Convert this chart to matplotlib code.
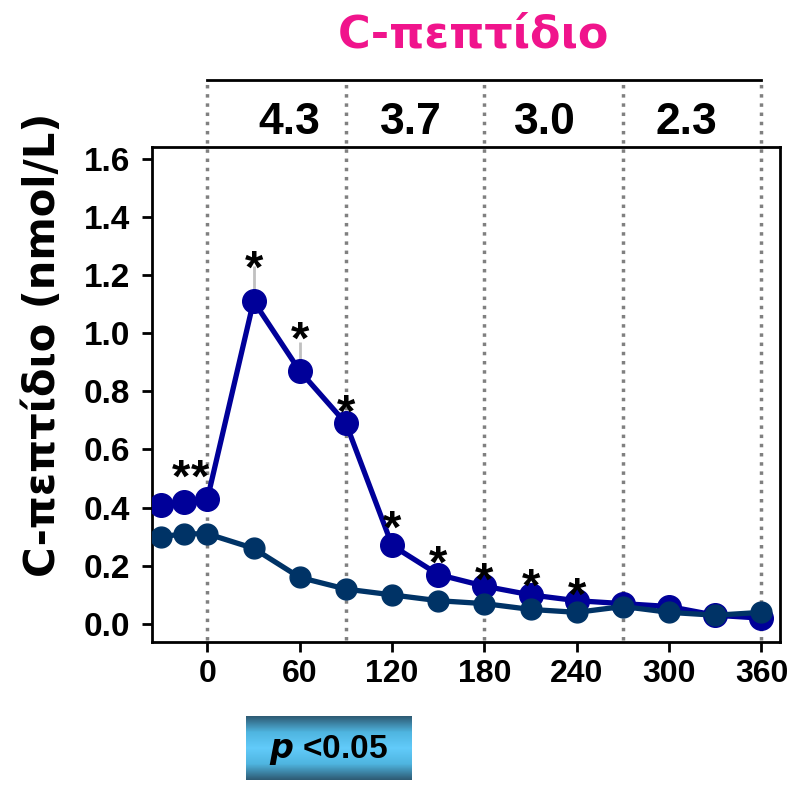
import numpy as np
import matplotlib.pyplot as plt
from matplotlib.colors import LinearSegmentedColormap

plt.rcParams['font.family'] = ['Liberation Sans', 'DejaVu Sans']
plt.rcParams['font.weight'] = 'bold'
greek = ['DejaVu Sans']

# data
time = [-30, -15, 0, 30, 60, 90, 120, 150, 180, 210, 240, 270, 300, 330, 360]
cpep_a = [0.41, 0.42, 0.43, 1.11, 0.87, 0.69, 0.27, 0.17, 0.13, 0.10, 0.08, 0.07, 0.06, 0.03, 0.02]
err_a = [0.0, 0.0, 0.0, 0.12, 0.10, 0.03, 0.0, 0.0, 0.0, 0.0, 0.0, 0.0, 0.0, 0.0, 0.0]
cpep_b = [0.30, 0.31, 0.31, 0.26, 0.16, 0.12, 0.10, 0.08, 0.07, 0.05, 0.04, 0.06, 0.04, 0.03, 0.04]
star_x = [-17, -5, 30, 60, 90, 120, 150, 180, 210, 240]
star_y = [0.42, 0.42, 1.14, 0.895, 0.645, 0.245, 0.125, 0.065, 0.045, 0.015]
bounds = [0, 90, 180, 270, 360]
top_vals = ['4.3', '3.7', '3.0', '2.3']
top_x = [53, 132, 219, 311]

fig = plt.figure(figsize=(7.92, 7.86), dpi=100)
ax = fig.add_axes([0.1919, 0.1832, 0.7929, 0.6298])

blue = '#000099'
navy = '#003366'

ax.errorbar(time, cpep_a, yerr=[np.zeros(len(err_a)), err_a], fmt='none',
            ecolor='#c0c0c0', elinewidth=2, capsize=0, zorder=2)
ax.plot(time, cpep_a, '-o', color=blue, lw=3.8, ms=17, zorder=3)
ax.plot(time, cpep_b, '-o', color=navy, lw=3.8, ms=15, zorder=4)

for sx, sy in zip(star_x, star_y):
    ax.text(sx, sy, '*', fontsize=34, ha='center', va='bottom', color='black', zorder=5)

# vertical dotted separators extending above the axes
ytop = 1.87
for b in bounds:
    ax.plot([b, b], [-0.055, ytop], ls=':', color='#808080', lw=2.5, clip_on=False, zorder=1)
ax.plot([bounds[0], bounds[-1]], [ytop, ytop], color='black', lw=2, clip_on=False)
for tx, tv in zip(top_x, top_vals):
    ax.text(tx, 1.725, tv, fontsize=32, ha='center', va='center', fontweight='bold', clip_on=False)

ax.set_xlim(-36, 372)
ax.set_ylim(-0.062, 1.64)
ax.set_xticks(np.arange(0, 361, 60))
ax.set_yticks(np.arange(0, 1.61, 0.2))
ax.set_yticklabels(['%.1f' % v for v in np.arange(0, 1.61, 0.2)])
ax.tick_params(labelsize=23, width=2, length=7, direction='out')
ax.tick_params(axis='y', labelsize=24, pad=9)
ax.tick_params(axis='x', pad=5)
for sp in ax.spines.values():
    sp.set_linewidth(2)
ax.set_ylabel('C-πεπτίδιο (nmol/L)', fontsize=30, fontweight='bold', family=greek)
ax.yaxis.set_label_coords(-0.14, 0.6)

fig.text(473 / 792, 1 - 35 / 786, 'C-πεπτίδιο', fontsize=32, fontweight='bold',
         color='#f0148c', ha='center', va='center', family=greek)

# p-value badge with gradient
bx = fig.add_axes([246 / 792, 1 - 780 / 786, 166 / 792, 64 / 786])
cmap = LinearSegmentedColormap.from_list('g', ['#2e5b74', '#4fb5e0', '#62cbfa', '#4fb5e0', '#2e5b74'])
grad = np.linspace(0, 1, 100).reshape(-1, 1)
bx.imshow(grad, aspect='auto', cmap=cmap, extent=[0, 1, 0, 1])
bx.set_axis_off()
bx.text(0.5, 0.47, r'$\bf{\it{p}}$ <0.05', fontsize=24, fontweight='bold', ha='center', va='center')

fig.savefig('out.png', dpi=100)
